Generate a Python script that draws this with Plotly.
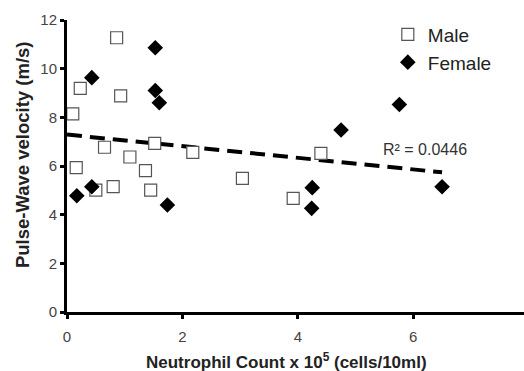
import numpy as np
import plotly.graph_objects as go

male_x = [0.10, 0.23, 0.86, 0.93, 0.16, 0.65, 1.09, 1.36, 1.52, 2.18, 3.04, 0.50, 0.80, 1.45, 3.92, 4.40]
male_y = [8.14, 9.19, 11.27, 8.88, 5.93, 6.77, 6.37, 5.81, 6.93, 6.56, 5.49, 5.01, 5.15, 5.01, 4.67, 6.52]
female_x = [0.43, 1.53, 1.53, 1.60, 0.17, 0.43, 1.74, 4.25, 4.24, 6.50, 4.75, 5.76]
female_y = [9.63, 10.86, 9.10, 8.60, 4.78, 5.15, 4.40, 5.11, 4.26, 5.15, 7.48, 8.53]

all_x = np.array(male_x + female_x)
all_y = np.array(male_y + female_y)
slope, intercept = np.polyfit(all_x, all_y, 1)
trend_x = [0.0, float(all_x.max())]
trend_y = [intercept + slope * v for v in trend_x]

FONT = "Liberation Sans, Arial"

fig = go.Figure()
fig.add_trace(go.Scatter(x=trend_x, y=trend_y, mode="lines", showlegend=False,
                         line=dict(color="black", width=4, dash="15px,8px")))
fig.add_trace(go.Scatter(x=male_x, y=male_y, mode="markers", name="Male",
                         marker=dict(symbol="square", size=12, color="white",
                                     line=dict(color="#555555", width=1.2))))
fig.add_trace(go.Scatter(x=female_x, y=female_y, mode="markers", name="Female",
                         marker=dict(symbol="diamond", size=12, color="black",
                                     line=dict(width=0))))

fig.add_annotation(x=5.45, y=6.66, xref="x", yref="y", text="R² = 0.0446",
                   showarrow=False, xanchor="left",
                   font=dict(family=FONT, size=16, color="#333333"))
fig.add_annotation(x=-0.096, y=0.538, xref="paper", yref="paper",
                   text="<b>Pulse-Wave velocity (m/s)</b>", textangle=-90,
                   showarrow=False, xanchor="center", yanchor="middle",
                   font=dict(family=FONT, size=18.5, color="#222222"))
fig.add_annotation(x=0.481, y=-0.214, xref="paper", yref="paper",
                   text="<b>Neutrophil Count x 10<sup>5</sup> (cells/10ml)</b>",
                   showarrow=False, xanchor="center", yanchor="bottom",
                   font=dict(family=FONT, size=17, color="#222222"))

fig.update_layout(
    width=524, height=371,
    margin=dict(l=67, r=0, t=20, b=59),
    paper_bgcolor="white", plot_bgcolor="white",
    font=dict(family=FONT, color="#333333"),
    legend=dict(x=0.702, y=1.015, xanchor="left", yanchor="top",
                font=dict(size=19, color="#222222"), bgcolor="rgba(0,0,0,0)",
                itemwidth=30, tracegroupgap=0),
    xaxis=dict(range=[0, 7.92], tickvals=[0, 2, 4, 6, 8], showgrid=False, zeroline=False,
               showline=True, linecolor="black", linewidth=3,
               ticks="outside", ticklen=4, tickwidth=3, tickcolor="black",
               ticklabelstandoff=5,
               tickfont=dict(size=15, color="#444444")),
    yaxis=dict(range=[0, 12], tickvals=[0, 2, 4, 6, 8, 10, 12], showgrid=False, zeroline=False,
               showline=True, linecolor="black", linewidth=3,
               ticks="outside", ticklen=4, tickwidth=3, tickcolor="black",
               tickfont=dict(size=15, color="#444444")),
)
fig.write_html("out.html")
